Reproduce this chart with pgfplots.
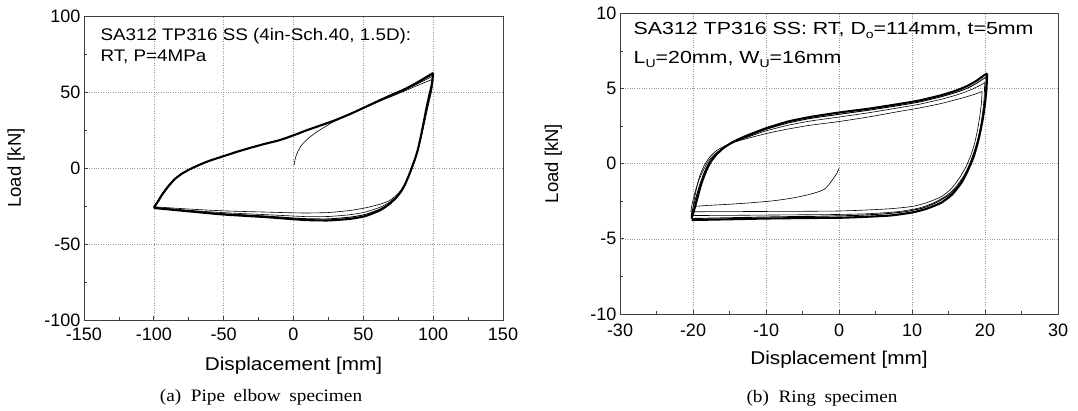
\documentclass[border=0pt]{standalone}
\usepackage{fontspec}
\setmainfont{Liberation Sans}
\newfontfamily\capfont{Liberation Serif}
\usepackage{pgfplots}
\pgfplotsset{compat=1.18}
\begin{document}
\begin{tikzpicture}
\useasboundingbox (0pt,0pt) rectangle (1078pt,411pt);
\pgfplotsset{
 myax/.style={
  scale only axis, anchor=south west,
  axis line style={black!75, line width=0.9pt},
  tick align=inside, xtick pos=bottom, ytick pos=left,
  minor tick num=1,
  major tick length=4pt, minor tick length=3pt,
  tick style={black!75, line width=0.7pt},
  grid=major, major grid style={dotted, black!40, line width=0.6pt},
  tick label style={font=\fontsize{18}{18}\selectfont},
  /pgf/number format/assume math mode=true,
  xlabel style={font=\fontsize{18.5}{18.5}\selectfont, xscale=1.12},
  ylabel style={font=\fontsize{18.5}{18.5}\selectfont},
 },
 br/.style={black, line width=0.6pt, smooth, tension=0.35},
 brt/.style={black, line width=2.1pt, smooth, tension=0.35},
 brm/.style={black, line width=0.9pt, smooth, tension=0.35},
}
% ---------------- (a) Pipe elbow ----------------
\begin{axis}[myax, at={(84pt,91pt)}, width=419pt, height=304pt,
  xmin=-150, xmax=150, ymin=-100, ymax=100,
  xtick={-150,-100,...,150}, ytick={-100,-50,...,100},
  xticklabel style={yshift=-4pt},
  xlabel={Displacement [mm]}, ylabel={Load [kN]},
  xlabel style={at={(axis description cs:0.5,-0.151)}, anchor=center},
  ylabel style={at={(axis description cs:-0.162,0.5)}, anchor=center},
]
% initial loading + first cycle
\addplot[br] coordinates {(0.5,2) (1,5) (2,8.5) (3.5,11.5) (5,14) (7,16.3) (10,19) (14,22) (18,24.5) (22,26.8) (26,29) (30,31) (35,33.2) (40,35.2) (50,39.3) (60,43.3) (70,47) (80,50.8) (90,54.8) (100,58.5)};
\addplot[br] coordinates {(100,58.5) (99,51) (97,43) (95,35) (93,26.5) (91,18.5) (89,11) (87,5) (85,0) (83,-4.5) (80,-10) (77,-14.5) (73,-18.5) (68,-21.8) (62,-23.8) (55,-25.5) (50,-26.5) (40,-28) (25,-29.3) (10,-29.6) (0,-29.5) (-20,-29) (-50,-28.2) (-75,-27) (-100,-25.5)};
% cycle 2
\addplot[br] coordinates {(-100,-25.5) (-97,-21.2) (-94,-16.8) (-90,-11.8) (-85,-7) (-80,-3.6) (-75,-1.1) (-70,1) (-65,3) (-60,4.8) (-50,7.8) (-40,10.8) (-30,13.5) (-20,16) (-10,18.3) (0,21.5) (10,25) (20,28.2) (30,31.5) (40,35.3) (50,39.4) (60,43.5) (70,47.5) (80,51.4) (90,55.9) (100,60.5)};
\addplot[br] coordinates {(100,60.5) (99,53) (97,45) (95,36.8) (93,27.8) (91,19.3) (89,11.5) (87,5.5) (85,0.5) (83,-4.3) (80,-10.3) (77,-15) (73,-19.3) (68,-23) (62,-25.8) (55,-28) (50,-29.3) (40,-30.8) (25,-31.9) (10,-32) (0,-31.6) (-20,-30.7) (-50,-29.4) (-75,-27.8) (-100,-25.9)};
% cycle 3
\addplot[brm] coordinates {(-100,-25.9) (-97,-21.6) (-94,-17.2) (-90,-12.2) (-85,-7.2) (-80,-3.7) (-75,-1.2) (-70,1) (-65,3) (-60,4.8) (-50,7.8) (-40,10.8) (-30,13.5) (-20,16) (-10,18.3) (0,21.5) (10,25) (20,28.2) (30,31.5) (40,35.3) (50,39.5) (60,43.7) (70,47.8) (80,51.8) (90,56.5) (100,61.7)};
\addplot[brm] coordinates {(100,61.7) (99,54.2) (97,46.2) (95,37.8) (93,28.5) (91,19.7) (89,11.8) (87,5.8) (85,0.8) (83,-4.1) (80,-10.4) (77,-15.3) (73,-19.7) (68,-23.7) (62,-27) (55,-29.5) (50,-30.9) (40,-32.4) (25,-33.5) (10,-33.4) (0,-32.9) (-20,-31.6) (-50,-30.1) (-75,-28.2) (-100,-26.1)};
% later cycles
\addplot[brt] coordinates {(-100,-26.1) (-97,-22) (-94,-17.5) (-90,-12.5) (-85,-7.3) (-80,-3.8) (-75,-1.2) (-70,1) (-65,3) (-60,4.8) (-50,7.8) (-40,10.8) (-30,13.5) (-20,16) (-10,18.3) (0,21.5) (10,25) (20,28.2) (30,31.5) (40,35.3) (50,39.5) (60,43.8) (70,48) (80,52) (90,57) (100,62.5)};
\addplot[brt] coordinates {(100,62.5) (99,55) (97,47) (95,38.5) (93,29) (91,20) (89,12) (87,6) (85,1) (83,-4) (80,-10.5) (77,-15.5) (73,-20) (68,-24.2) (62,-27.8) (55,-30.5) (50,-32) (40,-33.5) (25,-34.5) (10,-34.3) (0,-33.7) (-20,-32.3) (-50,-30.6) (-75,-28.5) (-100,-26.3)};
\node[anchor=base west, font=\fontsize{16.8}{16.8}\selectfont, xscale=1.12] at (rel axis cs:0.03,0.921) {SA312 TP316 SS (4in-Sch.40, 1.5D):};
\node[anchor=base west, font=\fontsize{16.8}{16.8}\selectfont, xscale=1.12] at (rel axis cs:0.03,0.849) {RT, P=4MPa};
\end{axis}
% ---------------- (b) Ring ----------------
\begin{axis}[myax, at={(620pt,97pt)}, width=438pt, height=300.7pt,
  xmin=-30, xmax=30, ymin=-10, ymax=10,
  xtick={-30,-20,...,30}, ytick={-10,-5,...,10},
  xticklabel style={yshift=-6pt},
  xlabel={Displacement [mm]}, ylabel={Load [kN]},
  xlabel style={at={(axis description cs:0.5,-0.153)}, anchor=center},
  ylabel style={at={(axis description cs:-0.152,0.5)}, anchor=center},
]
% initial + cycle 1
\addplot[br] coordinates {(0,-0.3) (-0.3,-0.65) (-0.8,-1.0) (-1.4,-1.4) (-2,-1.7) (-3,-1.9) (-4.5,-2.1) (-6.5,-2.3) (-9,-2.47) (-12,-2.6) (-15,-2.7) (-18,-2.78) (-20,-2.85)};
\addplot[br] coordinates {(-20,-2.85) (-19.8,-2.3) (-19.5,-1.6) (-19.1,-0.85) (-18.5,-0.15) (-17.7,0.45) (-16.7,0.9) (-15.3,1.25) (-13.5,1.55) (-10,2.0) (-7,2.3) (-4,2.55) (0,2.8) (4,3.1) (8,3.45) (11,3.7) (14,4.0) (16,4.25) (17.5,4.45) (18.8,4.65) (19.6,4.8)};
\addplot[br] coordinates {(19.6,4.8) (19.5,4.0) (19.3,3.2) (19.0,2.3) (18.6,1.4) (18.1,0.6) (17.4,-0.2) (16.5,-0.95) (15.3,-1.7) (14,-2.2) (12,-2.6) (10,-2.85) (7,-3.0) (3,-3.1) (0,-3.15) (-5,-3.17) (-10,-3.18) (-15,-3.19) (-20.3,-3.2)};
% cycle 2
\addplot[br] coordinates {(-20.3,-3.2) (-20.1,-2.65) (-19.7,-1.85) (-19.2,-1.1) (-18.5,-0.35) (-17.7,0.3) (-16.75,0.75) (-15.5,1.15) (-14,1.5) (-12,1.85) (-10,2.18) (-7,2.55) (-4,2.83) (0,3.1) (4,3.38) (8,3.7) (11,3.95) (14,4.28) (16,4.55) (17.5,4.8) (18.8,5.08) (19.5,5.25) (19.95,5.4)};
\addplot[br] coordinates {(19.95,5.4) (19.9,4.5) (19.7,3.5) (19.4,2.5) (19.0,1.6) (18.5,0.8) (17.9,0.0) (17.1,-0.8) (16.0,-1.55) (14.8,-2.1) (13,-2.6) (11,-2.95) (8,-3.2) (4,-3.33) (0,-3.38) (-5,-3.4) (-10,-3.42) (-15,-3.44) (-20.25,-3.45)};
% cycle 3
\addplot[brm] coordinates {(-20.25,-3.45) (-19.95,-2.85) (-19.45,-2.0) (-19.0,-1.3) (-18.4,-0.5) (-17.65,0.2) (-16.8,0.65) (-15.7,1.1) (-14.3,1.47) (-12.5,1.8) (-10,2.28) (-7,2.7) (-4,3.0) (0,3.28) (4,3.55) (8,3.85) (11,4.1) (14,4.45) (16,4.73) (17.5,5.0) (18.8,5.33) (19.7,5.62) (20.15,5.75)};
\addplot[brm] coordinates {(20.15,5.75) (20.1,4.8) (19.9,3.8) (19.6,2.8) (19.2,1.9) (18.75,1.05) (18.2,0.25) (17.5,-0.55) (16.5,-1.35) (15.3,-2.0) (13.5,-2.55) (11.5,-2.95) (9,-3.2) (6,-3.35) (2,-3.45) (-3,-3.5) (-10,-3.55) (-15,-3.6) (-20.2,-3.65)};
% later cycles
\addplot[brt] coordinates {(-20.2,-3.65) (-19.8,-3.0) (-19.3,-2.1) (-18.9,-1.4) (-18.3,-0.6) (-17.6,0.1) (-16.8,0.6) (-15.8,1.05) (-14.5,1.45) (-12.7,1.85) (-10,2.35) (-7,2.8) (-4,3.1) (0,3.4) (4,3.65) (8,3.95) (11,4.2) (14,4.55) (16,4.85) (17.5,5.15) (18.8,5.5) (19.8,5.85) (20.3,6.0)};
\addplot[brt] coordinates {(20.3,6.0) (20.2,5.0) (20.0,4.0) (19.7,3.0) (19.3,2.0) (18.9,1.2) (18.4,0.4) (17.7,-0.4) (16.8,-1.25) (15.5,-2.05) (14,-2.6) (12,-3.0) (10,-3.25) (7,-3.45) (3,-3.55) (0,-3.6) (-5,-3.62) (-10,-3.65) (-15,-3.7) (-20.2,-3.75)};
\node[anchor=base west, font=\fontsize{17.5}{17.5}\selectfont, xscale=1.22] at (rel axis cs:0.0215,0.928) {SA312 TP316 SS: RT, D\raisebox{-4pt}{\fontsize{11.5}{11.5}\selectfont o}=114mm, t=5mm};
\node[anchor=base west, font=\fontsize{17.5}{17.5}\selectfont, xscale=1.22] at (rel axis cs:0.0215,0.834) {L\raisebox{-4pt}{\fontsize{11.5}{11.5}\selectfont U}=20mm, W\raisebox{-4pt}{\fontsize{11.5}{11.5}\selectfont U}=16mm};
\end{axis}
\node[font=\capfont\fontsize{17.5}{17.5}\selectfont, xscale=1.1] at (261pt,14pt) {(a)\hspace{0.5em}Pipe\hspace{0.45em}elbow\hspace{0.45em}specimen};
\node[font=\capfont\fontsize{17.5}{17.5}\selectfont, xscale=1.1] at (822pt,13pt) {(b)\hspace{0.5em}Ring\hspace{0.45em}specimen};
\end{tikzpicture}
\end{document}
